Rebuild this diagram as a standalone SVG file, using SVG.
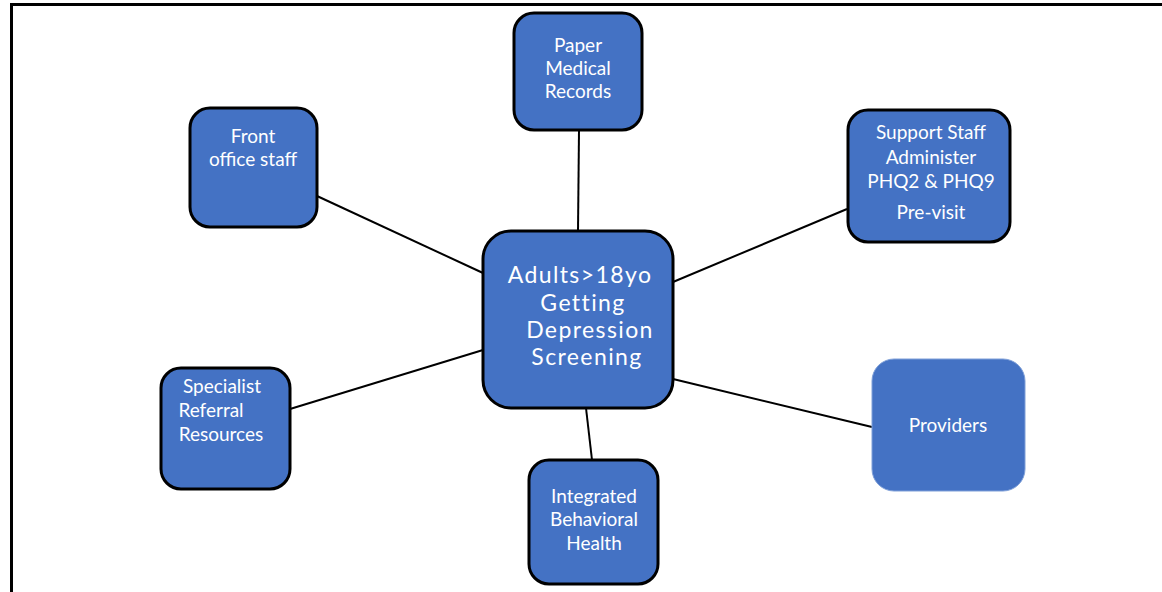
<svg xmlns="http://www.w3.org/2000/svg" width="1162" height="592" viewBox="0 0 1162 592">
<style>
.n{fill:#4472C4;stroke:#000;stroke-width:3}
.t{font-family:Lato,"Open Sans",sans-serif;font-size:19px;fill:#fff;text-anchor:middle}
.c{font-family:Lato,"Open Sans",sans-serif;font-size:23px;fill:#fff;text-anchor:middle;letter-spacing:1.4px}
.e{stroke:#000;stroke-width:2;fill:none}
</style>
<rect x="0" y="0" width="1162" height="592" fill="#fff"/>
<path d="M11.5 592 V4.5 H1162" fill="none" stroke="#000" stroke-width="3"/>
<g id="connectors">
<line class="e" x1="579" y1="130" x2="578" y2="231"/>
<line class="e" x1="317" y1="196" x2="483" y2="273"/>
<line class="e" x1="847" y1="209" x2="673" y2="282"/>
<line class="e" x1="290" y1="409" x2="483" y2="350"/>
<line class="e" x1="872" y1="427" x2="673" y2="379"/>
<line class="e" x1="592" y1="460" x2="586" y2="408"/>
</g>
<g id="center">
<rect class="n" x="483" y="231" width="190" height="177" rx="28"/>
<text class="c" x="580" y="283">Adults&gt;18yo</text>
<text class="c" x="583" y="311">Getting</text>
<text class="c" x="590" y="338">Depression</text>
<text class="c" x="587" y="365">Screening</text>
</g>
<g id="paper">
<rect class="n" x="514" y="13" width="128" height="117" rx="20"/>
<text class="t" x="578" y="52">Paper</text>
<text class="t" x="578" y="75">Medical</text>
<text class="t" x="578" y="98">Records</text>
</g>
<g id="front">
<rect class="n" x="190" y="108" width="127" height="119" rx="20"/>
<text class="t" x="253" y="143">Front</text>
<text class="t" x="253" y="166">office staff</text>
</g>
<g id="support">
<rect class="n" x="848" y="110" width="162" height="132" rx="20"/>
<text class="t" x="931" y="139">Support Staff</text>
<text class="t" x="931" y="164">Administer</text>
<text class="t" x="931" y="188">PHQ2 &amp; PHQ9</text>
<text class="t" x="931" y="219">Pre-visit</text>
</g>
<g id="specialist">
<rect class="n" x="161" y="368" width="129" height="121" rx="20"/>
<text class="t" x="222" y="393">Specialist</text>
<text class="t" x="211" y="417">Referral</text>
<text class="t" x="221" y="441">Resources</text>
</g>
<g id="providers">
<rect x="872" y="359" width="153" height="132" rx="22" fill="#4472C4" stroke="#7e9fd8" stroke-width="1"/>
<text class="t" x="948" y="432">Providers</text>
</g>
<g id="integrated">
<rect class="n" x="529" y="460" width="129" height="124" rx="20"/>
<text class="t" x="594" y="503">Integrated</text>
<text class="t" x="594" y="526">Behavioral</text>
<text class="t" x="594" y="550">Health</text>
</g>
</svg>
